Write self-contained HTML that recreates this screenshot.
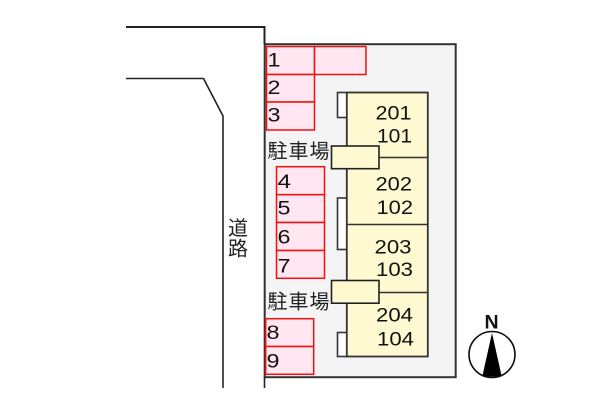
<!DOCTYPE html>
<html><head><meta charset="utf-8"><style>
html,body{margin:0;padding:0;background:#fff;width:600px;height:400px;overflow:hidden}
svg{display:block}
.n{font-family:"Liberation Sans",sans-serif;font-size:19.5px;fill:#111}
.j{font-family:"Liberation Sans","Noto Sans CJK JP",sans-serif;font-size:20px;fill:#222}
</style></head><body>
<svg width="600" height="400" viewBox="0 0 600 400" xmlns="http://www.w3.org/2000/svg">
<rect x="264.7" y="44.2" width="191" height="333" fill="#f4f4f4" stroke="#333" stroke-width="2"/>
<g fill="none" stroke="#222">
<path d="M126 27H264.5V44" stroke-width="2"/>
<path d="M126 78.5H203.5L223 116V388" stroke-width="1.6"/>
<path d="M264.5 377V388" stroke-width="1.6"/>
</g>
<g fill="#ffe6f0" stroke="#f01010" stroke-width="1.5">
<rect x="266.5" y="46.5" width="48" height="28"/>
<rect x="314.5" y="46.5" width="51.5" height="28"/>
<rect x="266.5" y="74.5" width="48" height="27.5"/>
<rect x="266.5" y="102" width="48" height="28"/>
<rect x="276.5" y="166.7" width="48" height="28"/>
<rect x="276.5" y="194.7" width="48" height="27.8"/>
<rect x="276.5" y="222.5" width="48" height="28"/>
<rect x="276.5" y="250.5" width="48" height="27.8"/>
<rect x="265.7" y="318.7" width="48" height="27.8"/>
<rect x="265.7" y="346.5" width="48" height="27.8"/>
</g>
<g fill="#fff" stroke="#333" stroke-width="1.6">
<rect x="337.5" y="92.5" width="9.5" height="25"/>
<rect x="337.5" y="198" width="9.5" height="51.5"/>
<rect x="337.5" y="332.5" width="9.5" height="24"/>
</g>
<rect x="346.8" y="92.5" width="81" height="264" fill="#fef9d0" stroke="#333" stroke-width="1.8"/>
<path d="M347 157.5H428M347 224.5H428M347 292.5H428" stroke="#333" stroke-width="1.5" fill="none"/>
<g fill="#fef9d0" stroke="#222" stroke-width="1.6">
<rect x="331.5" y="146" width="47.5" height="22.7"/>
<rect x="331.5" y="280.5" width="47.5" height="22.7"/>
</g>
<g class="n">
<text x="267.5" y="66.7" textLength="13" lengthAdjust="spacingAndGlyphs">1</text>
<text x="267.5" y="94" textLength="13" lengthAdjust="spacingAndGlyphs">2</text>
<text x="267.5" y="121.7" textLength="13" lengthAdjust="spacingAndGlyphs">3</text>
<text x="277.5" y="188" textLength="13.5" lengthAdjust="spacingAndGlyphs">4</text>
<text x="277.5" y="214.3" textLength="13" lengthAdjust="spacingAndGlyphs">5</text>
<text x="277.5" y="243.3" textLength="13" lengthAdjust="spacingAndGlyphs">6</text>
<text x="277.5" y="272.3" textLength="13" lengthAdjust="spacingAndGlyphs">7</text>
<text x="266.5" y="339" textLength="13" lengthAdjust="spacingAndGlyphs">8</text>
<text x="266.5" y="367.3" textLength="13" lengthAdjust="spacingAndGlyphs">9</text>
<text x="375.5" y="119.3" textLength="36" lengthAdjust="spacingAndGlyphs">201</text>
<text x="377" y="142.7" textLength="35" lengthAdjust="spacingAndGlyphs">101</text>
<text x="375.5" y="190.7" textLength="36.5" lengthAdjust="spacingAndGlyphs">202</text>
<text x="376.5" y="214" textLength="36.5" lengthAdjust="spacingAndGlyphs">102</text>
<text x="374.5" y="253.3" textLength="37" lengthAdjust="spacingAndGlyphs">203</text>
<text x="376" y="276" textLength="37" lengthAdjust="spacingAndGlyphs">103</text>
<text x="376" y="321.7" textLength="37" lengthAdjust="spacingAndGlyphs">204</text>
<text x="377" y="345.7" textLength="37" lengthAdjust="spacingAndGlyphs">104</text>
</g>
<g class="j">
<text x="267.5" y="158" textLength="62">駐車場</text>
<text x="267.5" y="308.5" textLength="62">駐車場</text>
<text x="228" y="235">道</text>
<text x="228" y="255.5">路</text>
</g>
<circle cx="492" cy="354.5" r="23" fill="#fff" stroke="#111" stroke-width="1.6"/>
<path d="M492 333L482.5 375.5Q492 378 501.5 375.5Z" fill="#000"/>
<text x="491.5" y="328.5" text-anchor="middle" font-family="Liberation Sans,sans-serif" font-weight="700" font-size="19.5" fill="#111">N</text>
</svg>
</body></html>
